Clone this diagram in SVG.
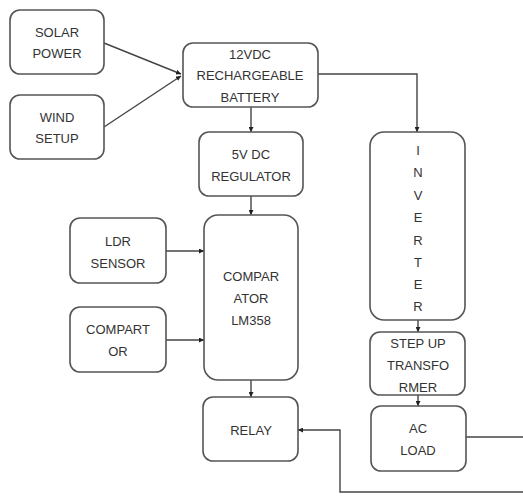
<svg xmlns="http://www.w3.org/2000/svg" width="523" height="496" viewBox="0 0 523 496">
<defs>
<marker id="ah" viewBox="0 0 10 10" refX="10" refY="5" markerWidth="5" markerHeight="5" orient="auto" markerUnits="userSpaceOnUse">
<path d="M0,0 L10,5 L0,10 Z" fill="#222"/>
</marker>
<style>
.box{fill:#fff;stroke:#555;stroke-width:1.6}
.t{font-family:"Liberation Sans",Arial,sans-serif;font-size:13px;fill:#333;text-anchor:middle;dominant-baseline:central}
.c{fill:none;stroke:#444;stroke-width:1.4}
</style>
</defs>
<rect width="523" height="496" fill="#fff"/>
<g id="connectors">
<path class="c" d="M104,43 L181,74" marker-end="url(#ah)"/>
<path class="c" d="M104,127 L181,76" marker-end="url(#ah)"/>
<path class="c" d="M251,107 L251,132" marker-end="url(#ah)"/>
<path class="c" d="M251,196 L251,215" marker-end="url(#ah)"/>
<path class="c" d="M166,251 L204,251" marker-end="url(#ah)"/>
<path class="c" d="M166,340 L204,340" marker-end="url(#ah)"/>
<path class="c" d="M251,380 L251,397" marker-end="url(#ah)"/>
<path class="c" d="M318,74 L417,74 L417,132" marker-end="url(#ah)"/>
<path class="c" d="M418,320 L418,332" marker-end="url(#ah)"/>
<path class="c" d="M418,395 L418,406" marker-end="url(#ah)"/>
<path class="c" d="M466,437 L523,437"/>
<path class="c" d="M523,492 L340,492 L340,430 L298,430" marker-end="url(#ah)"/>
</g>
<g id="solar"><rect class="box" x="10" y="10" width="94" height="64" rx="10"/><text class="t" x="57" y="32">SOLAR</text><text class="t" x="57" y="53">POWER</text></g>
<g id="wind"><rect class="box" x="10" y="95" width="94" height="64" rx="10"/><text class="t" x="57" y="117">WIND</text><text class="t" x="57" y="138">SETUP</text></g>
<g id="battery"><rect class="box" x="183" y="43" width="135" height="64" rx="10"/><text class="t" x="250" y="54">12VDC</text><text class="t" x="250" y="75">RECHARGEABLE</text><text class="t" x="250" y="97">BATTERY</text></g>
<g id="regulator"><rect class="box" x="199" y="132" width="104" height="64" rx="10"/><text class="t" x="251" y="154">5V DC</text><text class="t" x="251" y="176">REGULATOR</text></g>
<g id="ldr"><rect class="box" x="70" y="218" width="96" height="65" rx="10"/><text class="t" x="118" y="241">LDR</text><text class="t" x="118" y="263">SENSOR</text></g>
<g id="compartor"><rect class="box" x="70" y="307" width="96" height="65" rx="10"/><text class="t" x="118" y="329">COMPART</text><text class="t" x="118" y="351">OR</text></g>
<g id="comparator"><rect class="box" x="204" y="215" width="94" height="165" rx="14"/><text class="t" x="251" y="276">COMPAR</text><text class="t" x="251" y="298">ATOR</text><text class="t" x="251" y="320">LM358</text></g>
<g id="relay"><rect class="box" x="203" y="397" width="95" height="64" rx="10"/><text class="t" x="251" y="430">RELAY</text></g>
<g id="inverter"><rect class="box" x="370" y="132" width="95" height="188" rx="14"/>
<text class="t" x="418" y="150">I</text><text class="t" x="418" y="172">N</text><text class="t" x="418" y="195">V</text><text class="t" x="418" y="217">E</text><text class="t" x="418" y="240">R</text><text class="t" x="418" y="262">T</text><text class="t" x="418" y="284">E</text><text class="t" x="418" y="306">R</text></g>
<g id="stepup"><rect class="box" x="370" y="332" width="95" height="63" rx="10"/><text class="t" x="418" y="343">STEP UP</text><text class="t" x="418" y="365">TRANSFO</text><text class="t" x="418" y="387">RMER</text></g>
<g id="acload"><rect class="box" x="371" y="406" width="95" height="65" rx="10"/><text class="t" x="418" y="428">AC</text><text class="t" x="418" y="450">LOAD</text></g>
</svg>
